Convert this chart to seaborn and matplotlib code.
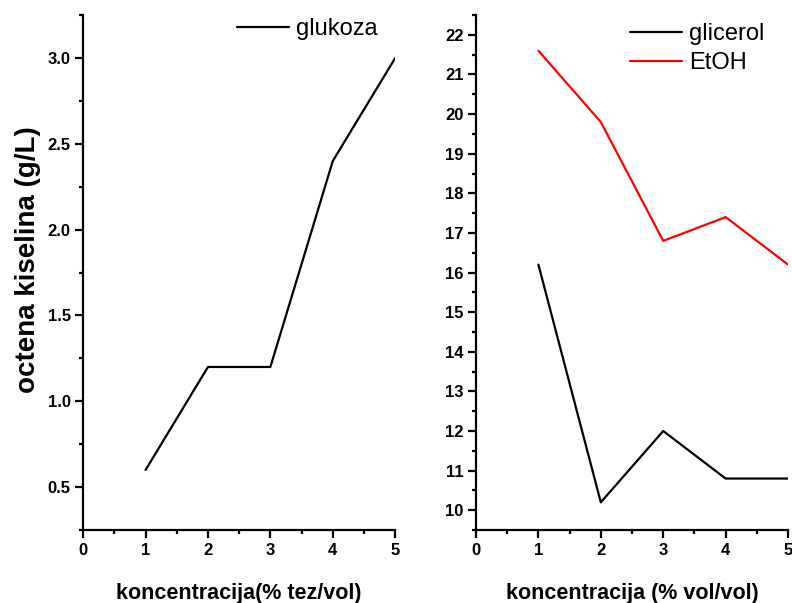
import matplotlib.pyplot as plt
import seaborn as sns
import pandas as pd
from matplotlib.ticker import MultipleLocator

# data
konc = [1, 2, 3, 4, 5]
glukoza = [0.6, 1.2, 1.2, 2.4, 3.0]
glicerol = [16.2, 10.2, 12.0, 10.8, 10.8]
etoh = [21.6, 19.8, 16.8, 17.4, 16.2]

sns.set_style("ticks")
plt.rcParams['font.family'] = ['Liberation Sans', 'DejaVu Sans']
plt.rcParams['axes.linewidth'] = 1.6
for k in ['text.color', 'axes.labelcolor', 'xtick.color', 'ytick.color', 'axes.edgecolor']:
    plt.rcParams[k] = 'black'

fig = plt.figure(figsize=(7.92, 6.03), dpi=100)
ax1 = fig.add_axes([0.105, 0.121, 0.394, 0.854])
ax2 = fig.add_axes([0.601, 0.121, 0.394, 0.854])

df1 = pd.DataFrame({'x': konc, 'y': glukoza})
sns.lineplot(data=df1, x='x', y='y', ax=ax1, color='black', lw=1.6, label='glukoza')

df2 = pd.DataFrame({'x': konc * 2, 'y': glicerol + etoh,
                    'serija': ['glicerol'] * 5 + ['EtOH'] * 5})
sns.lineplot(data=df2, x='x', y='y', hue='serija', ax=ax2,
             palette={'glicerol': 'black', 'EtOH': 'red'}, lw=1.6)

ax1.set_xlim(0, 5)
ax1.set_ylim(0.25, 3.25)
ax1.yaxis.set_major_locator(MultipleLocator(0.5))
ax1.yaxis.set_minor_locator(MultipleLocator(0.25))
ax1.set_yticks([0.5, 1.0, 1.5, 2.0, 2.5, 3.0])

ax2.set_xlim(0, 5)
ax2.set_ylim(9.5, 22.5)
ax2.yaxis.set_major_locator(MultipleLocator(1))
ax2.yaxis.set_minor_locator(MultipleLocator(0.5))

leg_pos = {ax1: (0.96, 1.003), ax2: (0.94, 0.993)}
for ax in (ax1, ax2):
    sns.despine(ax=ax)
    ax.xaxis.set_major_locator(MultipleLocator(1))
    ax.xaxis.set_minor_locator(MultipleLocator(0.5))
    ax.tick_params(which='major', length=6, width=1.6, labelsize=12, direction='out', pad=3)
    ax.tick_params(which='minor', length=3, width=1.6, direction='out')
    for lab in ax.get_xticklabels() + ax.get_yticklabels():
        lab.set_fontweight('bold')
    ax.set_ylabel('')
    leg = ax.legend(loc='upper right', bbox_to_anchor=leg_pos[ax], frameon=False,
                    fontsize=17, handlelength=2.2, handletextpad=0.3,
                    borderaxespad=0, borderpad=0.2, labelspacing=0.3)
    for line in leg.get_lines():
        line.set_linewidth(1.6)

ax1.set_xlabel('koncentracija(% tez/vol)', fontsize=15.5, fontweight='bold', labelpad=18)
ax2.set_xlabel('koncentracija (% vol/vol)', fontsize=15.5, fontweight='bold', labelpad=18)
ax1.set_ylabel('octena kiselina (g/L)', fontsize=20, fontweight='bold', labelpad=5, y=0.525)

fig.savefig('out.png', dpi=100)
